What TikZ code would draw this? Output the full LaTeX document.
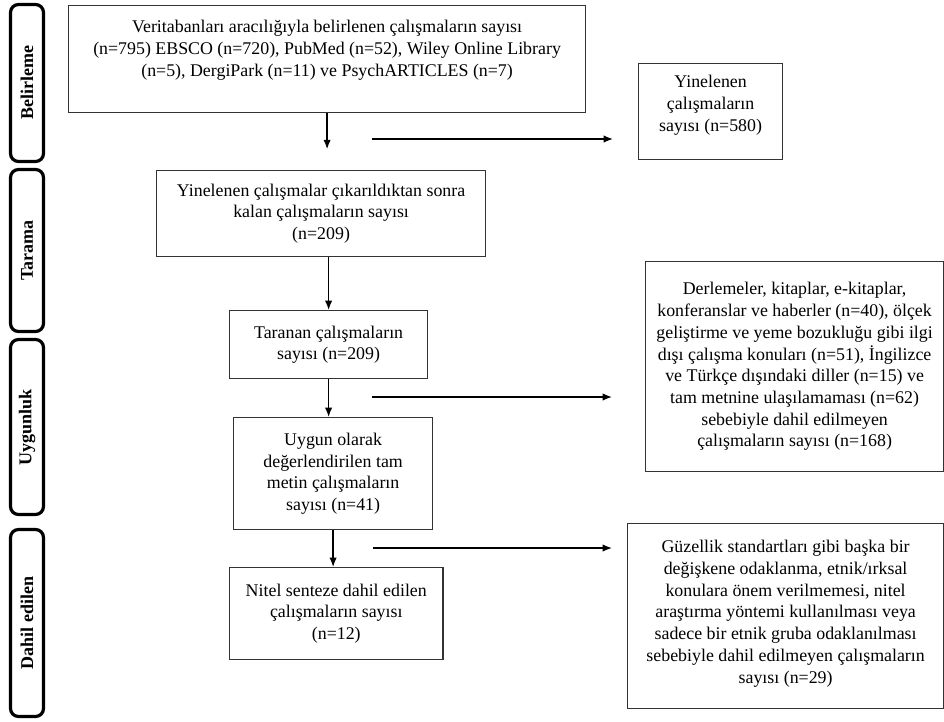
\documentclass[tikz,border=0pt]{standalone}
\usepackage{fontspec}
\setmainfont{Liberation Serif}
\usetikzlibrary{arrows.meta}

\tikzset{
	box/.style={draw=black!80, line width=0.9pt, align=center, anchor=north west, inner sep=2pt, font=\fontsize{13.4pt}{16.3pt}\selectfont},
	stage/.style={draw, line width=2.4pt, rounded corners=6pt, rotate=90, minimum height=24.75pt, inner sep=0pt, font=\fontsize{13.5pt}{16pt}\selectfont\bfseries}
}

\begin{document}
\begin{tikzpicture}
		[x=0.75pt, y=-0.75pt, >={Latex[length=7pt,width=5.5pt]}, line width=1pt]
		\useasboundingbox (0,0) rectangle (944,721);
		\node[stage, minimum width=117.75pt] (belirleme) at (27,83) {Belirleme};
		\node[stage, minimum width=121.5pt] (tarama) at (27,250.5) {Tarama};
		\node[stage, minimum width=131.25pt] (uygunluk) at (27,427) {Uygunluk};
		\node[stage, minimum width=140.25pt] (dahil) at (27,623) {Dahil edilen};
		\node[box, minimum width=387.75pt, minimum height=80.25pt, text depth=16.3pt] (db) at (68,5) {Veritabanları aracılığıyla belirlenen çalışmaların sayısı\\(n=795) EBSCO (n=720), PubMed (n=52), Wiley Online Library\\(n=5), DergiPark (n=11) ve PsychARTICLES (n=7)};
		\node[box, minimum width=108pt, minimum height=72pt, text depth=12.55pt] (dup) at (638,63) {Yinelenen\\çalışmaların\\sayısı (n=580)};
		\node[box, minimum width=246.75pt, minimum height=64.5pt] (rem) at (156,170) {Yinelenen çalışmalar çıkarıldıktan sonra\\kalan çalışmaların sayısı\\(n=209)};
		\node[box, minimum width=148.5pt, minimum height=51pt] (scr) at (229,310) {Taranan çalışmaların\\sayısı (n=209)};
		\node[box, minimum width=149.25pt, minimum height=84pt] (elig) at (233,417) {Uygun olarak\\değerlendirilen tam\\metin çalışmaların\\sayısı (n=41)};
		\node[box, minimum width=160pt, minimum height=69pt] (incl) at (229,567) {Nitel senteze dahil edilen\\çalışmaların sayısı\\(n=12)};
		\node[box, minimum width=223.5pt, minimum height=157.5pt] (exc1) at (645,261) {Derlemeler, kitaplar, e-kitaplar,\\konferanslar ve haberler (n=40), ölçek\\geliştirme ve yeme bozukluğu gibi ilgi\\dışı çalışma konuları (n=51), İngilizce\\ve Türkçe dışındaki diller (n=15) ve\\tam metnine ulaşılamaması (n=62)\\sebebiyle dahil edilmeyen\\çalışmaların sayısı (n=168)};
		\node[box, minimum width=237pt, minimum height=138.75pt, text depth=6.6pt] (exc2) at (627,523) {Güzellik standartları gibi başka bir\\değişkene odaklanma, etnik/ırksal\\konulara önem verilmemesi, nitel\\araştırma yöntemi kullanılması veya\\sadece bir etnik gruba odaklanılması\\sebebiyle dahil edilmeyen çalışmaların\\sayısı (n=29)};
		\path (db.south) ++(0,36) coordinate (db_end);
		\coordinate (h1_s) at (372,139);
		\coordinate (h1_e) at (613,139);
		\coordinate (h2_s) at (372,397);
		\coordinate (h2_e) at (612,397);
		\coordinate (h3_s) at (373,548);
		\coordinate (h3_e) at (612,548);
		\path[->] 
		(db.south) 	edge (db_end)
		(rem.south -| scr.north) 	edge (scr.north)
		(scr.south) 	edge (scr.south |- elig.north)
		(elig.south) 	edge (elig.south |- incl.north)
		(h1_s) 	edge (h1_e)
		(h2_s) 	edge (h2_e)
		(h3_s) 	edge (h3_e)
		;
\end{tikzpicture}
\end{document}
